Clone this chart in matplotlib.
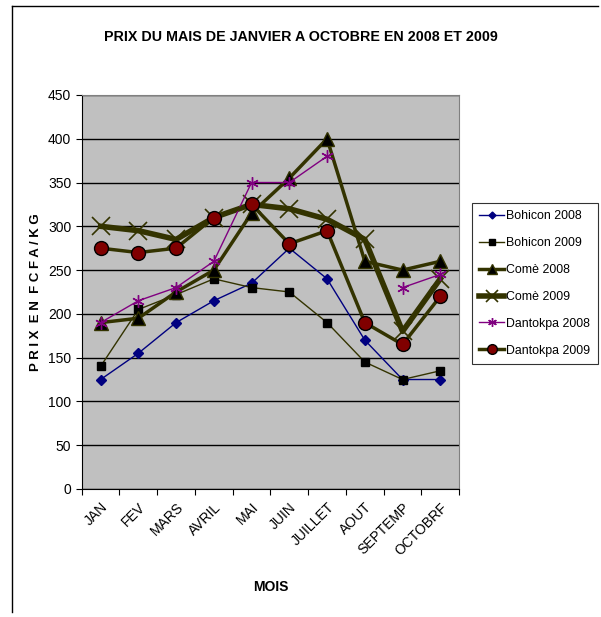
import matplotlib
matplotlib.use('Agg')
import matplotlib.pyplot as plt
import numpy as np

plt.rcParams['font.family'] = ['Liberation Sans', 'DejaVu Sans']

mois = ['JAN', 'FEV', 'MARS', 'AVRIL', 'MAI', 'JUIN', 'JUILLET', 'AOUT', 'SEPTEMP', 'OCTOBRF']

bohicon_2008 = [125, 155, 190, 215, 235, 275, 240, 170, 125, 125]
bohicon_2009 = [140, 205, 222, 240, 230, 225, 190, 145, 125, 135]
come_2008 = [190, 195, 225, 250, 315, 355, 400, 260, 250, 260]
come_2009 = [300, 295, 285, 310, 325, 320, 308, 285, 180, 240]
dantokpa_2008 = [190, 215, 230, 260, 350, 350, 380, np.nan, 230, 245]
dantokpa_2009 = [275, 270, 275, 310, 325, 280, 295, 190, 165, 220]

olive = '#333300'

fig = plt.figure(figsize=(6.01, 6.17), dpi=100)
ax = fig.add_axes([0.136, 0.2075, 0.628, 0.6386])
ax.set_facecolor('#C0C0C0')

x = np.arange(len(mois))

ax.plot(x, bohicon_2008, color='#000080', lw=1, marker='D', ms=5,
        mfc='#000080', mec='#000080', label='Bohicon 2008', zorder=3)
ax.plot(x, bohicon_2009, color=olive, lw=1, marker='s', ms=6,
        mfc='black', mec='black', label='Bohicon 2009', zorder=3)
ax.plot(x, come_2008, color=olive, lw=2.5, marker='^', ms=10,
        mfc='black', mec=olive, label='Comè 2008', zorder=3)
ax.plot(x, come_2009, color=olive, lw=4, marker='x', ms=13, mew=1.2,
        mec=olive, label='Comè 2009', zorder=3)
ax.plot(x, dantokpa_2008, color='#800080', lw=1, marker=(6, 2, 0), ms=9, mew=1,
        mec='#800080', label='Dantokpa 2008', zorder=3)
ax.plot(x, dantokpa_2009, color=olive, lw=2.5, marker='o', ms=10,
        mfc='#800000', mec='black', label='Dantokpa 2009', zorder=3)

ax.set_xlim(-0.5, len(mois) - 0.5)
ax.set_ylim(0, 450)
ax.set_yticks(np.arange(0, 451, 50))
ax.yaxis.grid(True, color='black', lw=1)
ax.set_axisbelow(True)

ax.set_xticks(np.arange(-0.5, len(mois), 1))
ax.set_xticklabels([])
ax.set_xticks(x, minor=True)
ax.set_xticklabels(mois, minor=True, rotation=45, ha='right', va='top',
                   rotation_mode='anchor', fontsize=10)
ax.tick_params(axis='x', which='minor', length=0, pad=8)
ax.tick_params(axis='x', which='major', length=4, direction='out')
ax.tick_params(axis='y', length=4, direction='out', labelsize=10)

for s in ['top', 'right']:
    ax.spines[s].set_color('#808080')
for s in ['left', 'bottom']:
    ax.spines[s].set_color('black')

ax.set_xlabel('MOIS', fontsize=10, fontweight='bold', labelpad=16)
ax.set_ylabel('P R I X  E N  F C F A / K G', fontsize=9.5, fontweight='bold', labelpad=4)
fig.text(0.5, 0.94, 'PRIX DU MAIS DE JANVIER A OCTOBRE EN 2008 ET 2009',
         ha='center', va='center', fontsize=10.3, fontweight='bold')

leg = fig.legend(loc='upper left', bbox_to_anchor=(0.785, 0.671), fontsize=8.9,
                 frameon=True, fancybox=False, edgecolor='black',
                 handlelength=2.0, labelspacing=1.2, borderpad=0.6,
                 handletextpad=0.2, borderaxespad=0, markerscale=0.7)
leg.get_frame().set_linewidth(0.8)

# cadre du graphique (gauche et haut)
fig.add_artist(plt.Line2D([0.02, 0.02], [0.008, 0.99], color='black', lw=1, transform=fig.transFigure))
fig.add_artist(plt.Line2D([0.02, 0.995], [0.99, 0.99], color='black', lw=1, transform=fig.transFigure))

fig.savefig('out.png', dpi=100)
